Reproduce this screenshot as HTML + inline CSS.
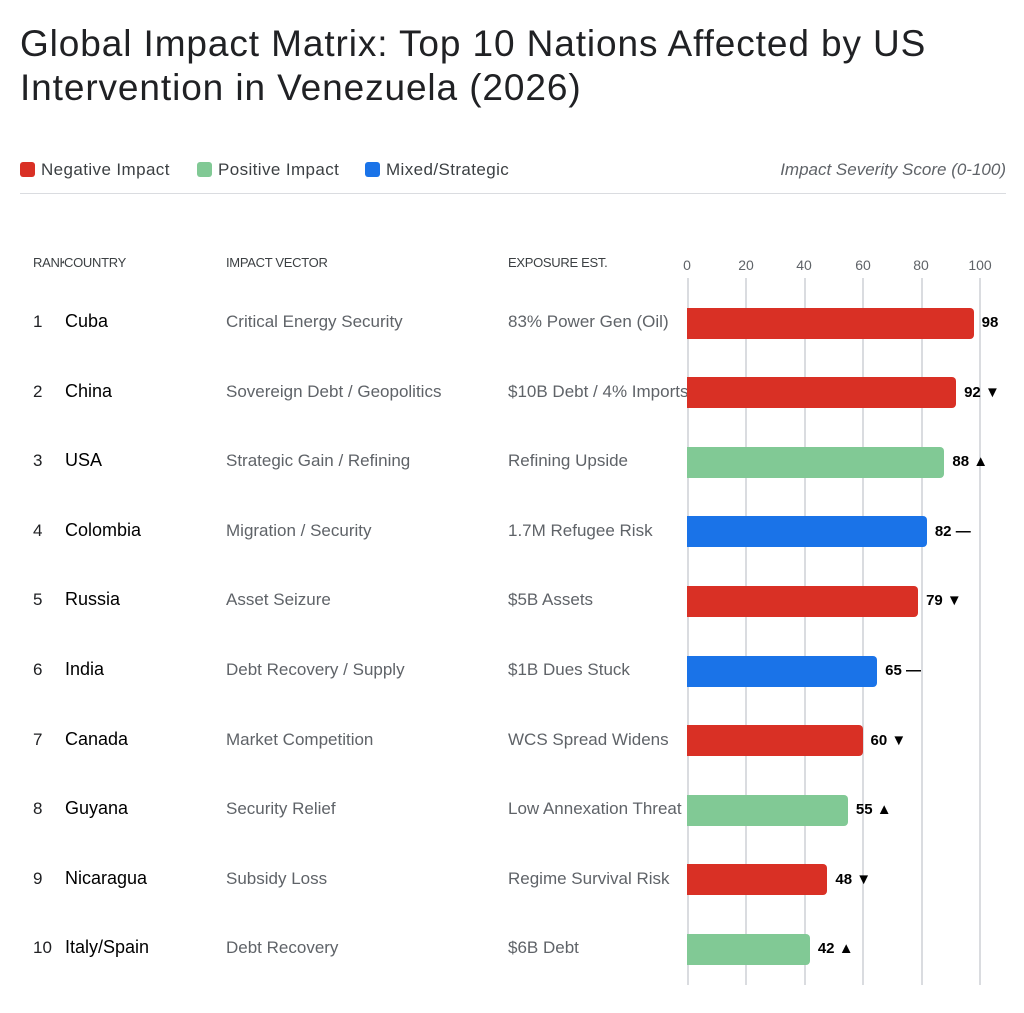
<!DOCTYPE html>
<html><head><meta charset="utf-8"><style>
body{margin:0;width:1024px;height:1013px;background:#fff;font-family:"Liberation Sans",sans-serif;position:relative;overflow:hidden}
.a{position:absolute;white-space:nowrap}
h1{position:absolute;left:20px;top:22px;margin:0;font-weight:normal;font-size:37px;line-height:44px;color:#202124;letter-spacing:0.9px}
.leg{top:160px;font-size:17px;color:#3c4043;letter-spacing:0.4px}
.sw{display:inline-block;width:15px;height:15px;border-radius:3px;vertical-align:-2px;margin-right:6px}
.hd{top:255px;font-size:13px;color:#3c4043;letter-spacing:-0.3px}
.rk{font-size:17px;color:#202124}
.ct{font-size:18px;color:#000}
.tx{font-size:17px;color:#5f6368}
.tk{top:257px;font-size:14px;color:#5f6368;width:40px;text-align:center}
.gl{position:absolute;top:278px;height:707px;width:1.5px;background:#dadce0}
.bar{position:absolute;left:687px;height:31px;border-radius:0 4px 4px 0}
.v{font-size:15px;font-weight:bold;color:#000}
</style></head><body>
<h1>Global Impact Matrix: Top 10 Nations Affected by US<br>Intervention in Venezuela (2026)</h1>
<div class="a leg" style="left:20px"><span class="sw" style="background:#d93025"></span>Negative Impact</div>
<div class="a leg" style="left:197px"><span class="sw" style="background:#81c995"></span>Positive Impact</div>
<div class="a leg" style="left:365px"><span class="sw" style="background:#1a73e8"></span>Mixed/Strategic</div>
<div class="a leg" style="right:18px;font-style:italic;color:#5f6368;letter-spacing:0">Impact Severity Score (0-100)</div>
<div class="a" style="left:20px;right:18px;top:193px;height:1px;background:#dadce0"></div>
<div class="a hd" style="left:33px">RANK</div><div class="a hd" style="left:64px;background:#fff">COUNTRY</div>
<div class="a hd" style="left:226px">IMPACT VECTOR</div>
<div class="a hd" style="left:508px">EXPOSURE EST.</div>
<div class="a tk" style="left:667px">0</div><div class="a tk" style="left:726px">20</div><div class="a tk" style="left:784px">40</div><div class="a tk" style="left:843px">60</div><div class="a tk" style="left:901px">80</div><div class="a tk" style="left:960px">100</div>
<div class="gl" style="left:687px"></div><div class="gl" style="left:745px"></div><div class="gl" style="left:804px"></div><div class="gl" style="left:862px"></div><div class="gl" style="left:921px"></div><div class="gl" style="left:979px"></div>
<div id="rows"></div>
<script>
var d=[["Cuba","Critical Energy Security","83% Power Gen (Oil)",98,"#d93025",""],
["China","Sovereign Debt / Geopolitics","$10B Debt / 4% Imports",92,"#d93025"," ▼"],
["USA","Strategic Gain / Refining","Refining Upside",88,"#81c995"," ▲"],
["Colombia","Migration / Security","1.7M Refugee Risk",82,"#1a73e8"," —"],
["Russia","Asset Seizure","$5B Assets",79,"#d93025"," ▼"],
["India","Debt Recovery / Supply","$1B Dues Stuck",65,"#1a73e8"," —"],
["Canada","Market Competition","WCS Spread Widens",60,"#d93025"," ▼"],
["Guyana","Security Relief","Low Annexation Threat",55,"#81c995"," ▲"],
["Nicaragua","Subsidy Loss","Regime Survival Risk",48,"#d93025"," ▼"],
["Italy/Spain","Debt Recovery","$6B Debt",42,"#81c995"," ▲"]];
var h="";
d.forEach(function(r,i){var c=323+i*69.6,w=r[3]*2.925;
h+='<div class="a rk" style="left:33px;top:'+(c-11)+'px">'+(i+1)+'</div>';
h+='<div class="a ct" style="left:65px;top:'+(c-12)+'px">'+r[0]+'</div>';
h+='<div class="a tx" style="left:226px;top:'+(c-11)+'px">'+r[1]+'</div>';
h+='<div class="a tx" style="left:508px;top:'+(c-11)+'px">'+r[2]+'</div>';
h+='<div class="bar" style="top:'+(c-15.5)+'px;width:'+w+'px;background:'+r[4]+'"></div>';
h+='<div class="a v" style="left:'+(687+w+8)+'px;top:'+(c-9)+'px">'+r[3]+r[5]+'</div>';});
document.getElementById("rows").innerHTML=h;
</script>
</body></html>
